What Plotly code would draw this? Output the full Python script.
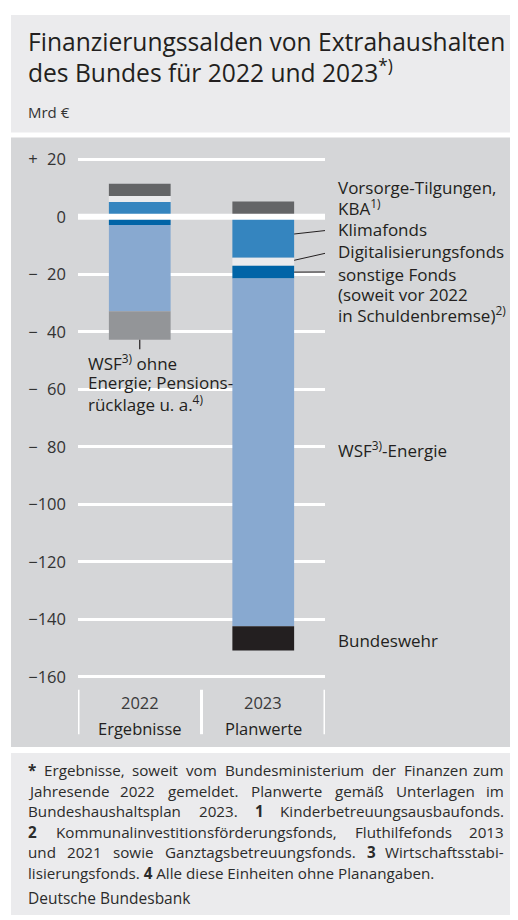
import re
import plotly.graph_objects as go

# ---------------- data ----------------
years = ["2022", "2023"]
year_sub = ["Ergebnisse", "Planwerte"]
klimafonds = [5.1, -14.3]
digitalisierung = [2.1, -2.7]
vorsorge_kba = [4.3, 5.3]
sonstige_fonds = [-2.9, -4.5]
wsf_energie = [-30.0, -120.9]
wsf_ohne_energie = [-9.9, None]
bundeswehr = [None, -8.4]

tick_vals = [20, 0, -20, -40, -60, -80, -100, -120, -140, -160]
tick_text = ["+\u200720", "0", "\u2212\u200720", "\u2212\u200740", "\u2212\u200760",
             "\u2212\u200780", "\u2212100", "\u2212120", "\u2212140", "\u2212160"]

footnote_lines = [
    "<b>*</b> Ergebnisse, soweit vom Bundesministerium der Finanzen zum",
    "Jahresende 2022 gemeldet. Planwerte gemäß Unterlagen im",
    "Bundeshaushaltsplan 2023. <b>1</b> Kinderbetreuungsausbaufonds.",
    "<b>2</b> Kommunalinvestitionsförderungsfonds, Fluthilfefonds 2013",
    "und 2021 sowie Ganztagsbetreuungsfonds. <b>3</b> Wirtschaftsstabi-",
    "lisierungsfonds. <b>4</b> Alle diese Einheiten ohne Planangaben.",
]
source_text = "Deutsche Bundesbank"

# ---------------- styling ----------------
OFF = 8                     # page body margin of the html page
W, H = 518 - OFF, 920 - OFF
FONT = "Open Sans"
TXT = "#231f20"
C = dict(klima="#3585bf", digital="#ebebed", vorsorge="#646567", sonst="#0064a7",
         wsfe="#88a9d0", wsfo="#939598", bw="#231f20")

def xp(px):
    return (px - OFF) / W

def yp(py):
    return 1 - (py - OFF) / H

PLOT_L, PLOT_R = 78, 325

# approximate Open Sans advance widths (1/1000 em) used to justify the footnote
OS_W = {" ": 260, ".": 252, ",": 250, "-": 322, "(": 296, ")": 296, "*": 497, ";": 267,
        "A": 633, "B": 648, "C": 631, "D": 729, "E": 556, "F": 516, "G": 728, "H": 738,
        "I": 279, "J": 267, "K": 614, "L": 519, "M": 903, "N": 754, "O": 779, "P": 602,
        "R": 618, "S": 549, "T": 553, "U": 728, "V": 595, "W": 925, "Z": 571,
        "a": 556, "b": 613, "c": 476, "d": 613, "e": 561, "f": 339, "g": 548, "h": 614,
        "i": 253, "j": 253, "k": 525, "l": 253, "m": 930, "n": 614, "o": 604, "p": 613,
        "q": 613, "r": 408, "s": 477, "t": 353, "u": 614, "v": 501, "w": 778, "x": 524,
        "y": 501, "z": 461, "ä": 556, "ö": 604, "ü": 614, "ß": 625}
for d in "0123456789":
    OS_W[d] = 572

def word_w(word, size):
    plain = re.sub(r"</?b>", "", word)
    bold = "<b>" in word
    w = sum(OS_W.get(ch, 560) for ch in plain) / 1000 * size
    return w * (1.06 if bold else 1.0)

fig = go.Figure()
series = [
    ("Klimafonds", klimafonds, C["klima"]),
    ("Digitalisierungsfonds", digitalisierung, C["digital"]),
    ("Vorsorge-Tilgungen, KBA", vorsorge_kba, C["vorsorge"]),
    ("sonstige Fonds", sonstige_fonds, C["sonst"]),
    ("WSF-Energie", wsf_energie, C["wsfe"]),
    ("WSF ohne Energie", wsf_ohne_energie, C["wsfo"]),
    ("Bundeswehr", bundeswehr, C["bw"]),
]
for name, vals, col in series:
    fig.add_trace(go.Bar(x=years, y=vals, name=name, width=0.5,
                         marker=dict(color=col, line=dict(width=0)),
                         hoverinfo="skip", showlegend=False))

y_lo, y_hi = -162, 22
top_px, bot_px = 149.16, 684.84

fig.update_layout(
    width=W, height=H, barmode="relative",
    margin=dict(l=0, r=0, t=0, b=0),
    paper_bgcolor="white", plot_bgcolor="rgba(0,0,0,0)",
    font=dict(family=FONT, color=TXT),
    xaxis=dict(domain=[xp(PLOT_L), xp(PLOT_R)], type="category", range=[-0.5, 1.5],
               showticklabels=False, showgrid=False, zeroline=False, showline=False,
               fixedrange=True),
    yaxis=dict(domain=[yp(bot_px), yp(top_px)], range=[y_lo, y_hi],
               tickvals=tick_vals, ticktext=tick_text, showgrid=True,
               gridcolor="white", gridwidth=2.5, zeroline=False, showline=False,
               ticks="", ticklabelstandoff=11,
               tickfont=dict(family=FONT, size=16.5, color="#333333"), fixedrange=True),
)

shapes = []
# background boxes
shapes.append(dict(type="rect", xref="paper", yref="paper", x0=xp(11), x1=xp(513),
                   y0=yp(128), y1=yp(9), fillcolor="#ebebed", line=dict(width=0), layer="below"))
shapes.append(dict(type="rect", xref="paper", yref="paper", x0=xp(11), x1=xp(513),
                   y0=yp(750), y1=yp(133), fillcolor="#d5d6d8", line=dict(width=0), layer="below"))
shapes.append(dict(type="rect", xref="paper", yref="paper", x0=xp(11), x1=xp(513),
                   y0=yp(920), y1=yp(756), fillcolor="#ebebed", line=dict(width=0), layer="below"))
# zero line above bars
shapes.append(dict(type="line", xref="x domain", yref="y", x0=0, x1=1, y0=0, y1=0,
                   line=dict(color="white", width=6), layer="above"))
# category separators
for xv in [-0.5, 0.5, 1.5]:
    shapes.append(dict(type="line", xref="x", yref="paper", x0=xv, x1=xv,
                       y0=yp(737), y1=yp(692), line=dict(color="white", width=3)))

# leader lines (2023 right side), start inside the segments
k0 = klimafonds[1]
d0 = k0 + digitalisierung[1]
s0 = d0 + sonstige_fonds[1]
lead = [
    (k0 * 0.42, -4.5),
    ((k0 + d0) / 2 + 0.5, -12.1),
    ((d0 + s0) / 2, -19.2),
]
for ys, ye in lead:
    shapes.append(dict(type="line", xref="x", yref="y", x0=1.25, x1=1.565, y0=ys, y1=ye,
                       line=dict(color=TXT, width=1)))
# leader below 2022 bar
bottom22 = sonstige_fonds[0] + wsf_energie[0] + wsf_ohne_energie[0]
shapes.append(dict(type="line", xref="x", yref="y", x0=0, x1=0, y0=bottom22, y1=bottom22 - 3.3,
                   line=dict(color=TXT, width=1.2)))

ann = []
def A(text, x, y, xref="paper", yref="paper", size=17, xanchor="left", color=TXT):
    ann.append(dict(text=text, x=x, y=y, xref=xref, yref=yref, showarrow=False,
                    xanchor=xanchor, yanchor="middle", align="left", borderpad=0,
                    font=dict(family=FONT, size=size, color=color)))

# title
A("Finanzierungssalden von Extrahaushalten", xp(26.5), yp(35.5), size=24.6)
A("des Bundes für 2022 und 2023<sup>*)</sup>", xp(26.5), yp(66.5), size=24.6)
A("Mrd €", xp(27), yp(107), size=15, color="#333333")

# labels in chart (right of 2023 bar)
LX = xp(337)
LS = 17
A("Vorsorge-Tilgungen,", LX, 10.1, "paper", "y", size=LS)
A("KBA<sup>1)</sup>", LX, 3.2, "paper", "y", size=LS)
A("Klimafonds", LX, -4.5, "paper", "y", size=LS)
A("Digitalisierungsfonds", LX, -12.1, "paper", "y", size=LS)
A("sonstige Fonds", LX, -20.2, "paper", "y", size=LS)
A("(soweit vor 2022", LX, -27.1, "paper", "y", size=LS)
A("in Schuldenbremse)<sup>2)</sup>", LX, -34.0, "paper", "y", size=LS)
A("WSF<sup>3)</sup>-Energie", LX, -81.1, "paper", "y", size=LS)
A("Bundeswehr", LX, -147.4, "paper", "y", size=LS)
# label under 2022 bar
WX = xp(87)
A("WSF<sup>3)</sup> ohne", WX, -50.7, "paper", "y", size=LS)
A("Energie; Pensions-", WX, -57.6, "paper", "y", size=LS)
A("rücklage u. a.<sup>4)</sup>", WX, -64.8, "paper", "y", size=LS)

# category labels
for i, (yr, sub) in enumerate(zip(years, year_sub)):
    A(yr, i, yp(705), "x", "paper", size=16.5, xanchor="center", color="#3a3a3a")
    A(sub, i, yp(731.7), "x", "paper", size=16.5, xanchor="center")

# footnote, justified word by word (all lines but the last)
FS = 15.2
FX0, FX1 = 27, 505
foot_y = [773, 794, 815, 836, 856.5, 877]
FCOL = "#2b2b2b"
for li, (line, yy) in enumerate(zip(footnote_lines, foot_y)):
    if li == len(footnote_lines) - 1:
        A(line, xp(FX0), yp(yy), size=FS, color=FCOL)
        continue
    words = line.split(" ")
    widths = [word_w(w, FS) for w in words]
    gap = (FX1 - FX0 - sum(widths)) / (len(words) - 1)
    xcur = FX0
    for wi, (wd, ww) in enumerate(zip(words, widths)):
        if wi == len(words) - 1:
            A(wd, xp(FX1), yp(yy), size=FS, color=FCOL, xanchor="right")
        else:
            A(wd, xp(xcur), yp(yy), size=FS, color=FCOL)
        xcur += ww + gap
A(source_text, xp(FX0), yp(903), size=15.5, color=FCOL)

fig.update_layout(shapes=shapes, annotations=ann)
fig.write_html("out.html")
